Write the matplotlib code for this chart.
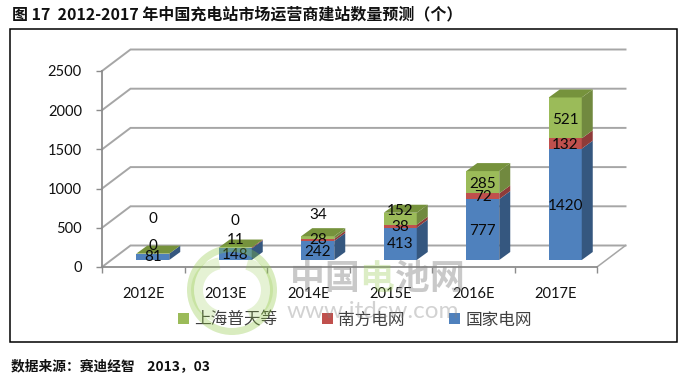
import matplotlib
matplotlib.use('Agg')
import matplotlib.pyplot as plt
from matplotlib.patches import Patch, Rectangle, Wedge
from matplotlib.transforms import IdentityTransform

CJK = ['Noto Sans CJK SC', 'DejaVu Sans']
LATIN = ['Lato', 'DejaVu Sans']

categories = ['2012E', '2013E', '2014E', '2015E', '2016E', '2017E']
state_grid = [81, 148, 242, 413, 777, 1420]
southern_grid = [0, 11, 28, 38, 72, 132]
shanghai = [0, 0, 34, 152, 285, 521]
series_names = ['上海普天等', '南方电网', '国家电网']
y_ticks = [0, 500, 1000, 1500, 2000, 2500]

W, H = 691, 376
BLUE, RED, GREEN = '#4F81BD', '#C0504D', '#9BBB59'
BLUE_S, RED_S, GREEN_S = '#35577F', '#8E3B39', '#71893F'
TOP = '#76923C'
GRID = '#A6A6A6'

fig = plt.figure(figsize=(W / 100, H / 100), dpi=100, facecolor='white')
ax = fig.add_axes([102 / W, 1 - 267 / H, 495 / W, 196 / H])
ax.set_xlim(-0.5, 5.5)
ax.set_ylim(0, 2500)
ax.patch.set_visible(False)

px_x = 1 / 82.5
px_y = 2500 / 196
wall_dx, wall_dy = 28.5 * px_x, 21.5 * px_y
bar_off_x, bar_off_y = 9.5 * px_x, 7 * px_y
bar_dx, bar_dy = 11 * px_x, 8 * px_y
bar_w = 33 * px_x

# walls and floor
for v in y_ticks:
    ax.plot([-0.5, -0.5 + wall_dx, 5.5 + wall_dx], [v, v + wall_dy, v + wall_dy],
            color=GRID, lw=1.4, clip_on=False, zorder=1, solid_joinstyle='miter')
ax.plot([5.5, 5.5 + wall_dx], [0, wall_dy], color=GRID, lw=1.1, clip_on=False, zorder=1)

# spines and ticks
for s in ['top', 'right']:
    ax.spines[s].set_visible(False)
for s in ['left', 'bottom']:
    ax.spines[s].set_color('#8C8C8C')
    ax.spines[s].set_linewidth(1.3)
    ax.spines[s].set_zorder(2)
ax.set_yticks(y_ticks)
ax.set_yticklabels([str(v) for v in y_ticks], fontfamily=LATIN, fontsize=10.5)
ax.tick_params(axis='y', length=4, width=1, color='#8C8C8C', pad=10.5, labelcolor='#111111')
ax.set_xticks(range(len(categories)))
ax.set_xticklabels(categories, fontfamily=LATIN, fontsize=10.5)
ax.tick_params(axis='x', which='major', length=0, pad=14.5, labelcolor='#111111')
ax.set_xticks([i - 0.5 for i in range(len(categories) + 1)], minor=True)
ax.tick_params(axis='x', which='minor', length=4, width=1, color='#8C8C8C')

# stacked 3D-look bars
stack = [(state_grid, BLUE, BLUE_S), (southern_grid, RED, RED_S), (shanghai, GREEN, GREEN_S)]
# label offsets in pixels from the segment midpoint (up positive)
label_off = [[0, -1, -1.5, 0, -1.5, -1.4],
             [8, 8, 0, -1, -1, -1.6],
             [35, 26.5, 22, 7.6, -2, -2]]
bottoms = [0] * len(categories)
for (vals, col, side), offs in zip(stack, label_off):
    for i, v in enumerate(vals):
        x0 = i + bar_off_x
        y0 = bar_off_y + bottoms[i]
        ax.bar(x0, v, width=bar_w, bottom=y0, color=col, linewidth=0, zorder=3, clip_on=False)
        xr = x0 + bar_w / 2
        ax.fill([xr, xr + bar_dx, xr + bar_dx, xr],
                [y0, y0 + bar_dy, y0 + v + bar_dy, y0 + v],
                color=side, lw=0, zorder=3, clip_on=False)
        ax.annotate(str(v), xy=(x0, y0 + v / 2), xytext=(0, offs[i]),
                    textcoords='offset pixels', ha='center', va='center',
                    fontfamily=LATIN, fontsize=11, color='#0A0A0A', zorder=6,
                    annotation_clip=False)
        bottoms[i] += v
for i, t in enumerate(bottoms):
    x0 = i + bar_off_x
    y = bar_off_y + t
    xl, xr = x0 - bar_w / 2, x0 + bar_w / 2
    ax.fill([xl, xr, xr + bar_dx, xl + bar_dx], [y, y, y + bar_dy, y + bar_dy],
            color=TOP, lw=0, zorder=3, clip_on=False)

# legend
handles = [Patch(color=GREEN, lw=0), Patch(color=RED, lw=0), Patch(color=BLUE, lw=0)]
leg = fig.legend(handles, series_names, ncol=3, frameon=False,
                 loc='center', bbox_to_anchor=(355 / W, 1 - 320 / H),
                 prop={'family': CJK, 'size': 12}, labelcolor='#404040',
                 handlelength=0.66, handleheight=0.66, handletextpad=0.33,
                 columnspacing=2.65, borderpad=0, borderaxespad=0)

# frame, title, source
fig.add_artist(Rectangle((10, H - 342), 667, 313, fill=False, edgecolor='black', lw=1.1,
                         transform=IdentityTransform(), zorder=0))
fig.text(12 / W, 1 - 14 / H, '图 17  2012-2017 年中国充电站市场运营商建站数量预测（个）',
         fontfamily=CJK, fontsize=11.5, fontweight='bold', va='center', color='#111111')
fig.text(11 / W, 1 - 366 / H, '数据来源：赛迪经智    2013，03',
         fontfamily=CJK, fontsize=9.9, fontweight='bold', va='center', color='#111111')

# watermark
tr = IdentityTransform()
fig.add_artist(Wedge((232, H - 290), 45, 0, 360, width=7, transform=tr,
                     facecolor='#8CC63F', alpha=0.33, lw=0, zorder=7))
fig.add_artist(Wedge((224, H - 290), 33, 100, 250, width=12, transform=tr,
                     facecolor='#8CC63F', alpha=0.22, lw=0, zorder=7))
fig.add_artist(Wedge((240, H - 290), 33, -70, 75, width=12, transform=tr,
                     facecolor='#8CC63F', alpha=0.22, lw=0, zorder=7))
wm_chars = ['中', '国', '电', '池', '网']
wm_cols = ['#808080', '#808080', '#8CC63F', '#808080', '#808080']
wm_alpha = [0.42, 0.42, 0.3, 0.42, 0.42]
for k, (c, col, al) in enumerate(zip(wm_chars, wm_cols, wm_alpha)):
    fig.text((307 + k * 35) / W, 1 - 278 / H, c, fontfamily=CJK, fontsize=25, fontweight='bold',
             ha='center', va='center', color=col, alpha=al, zorder=7)
fig.text(373 / W, 1 - 312 / H, 'www.itdcw.com', fontfamily=LATIN, fontsize=17.5,
         ha='center', va='center', color='#808080', alpha=0.35, zorder=7)

fig.savefig('out.png', dpi=100, facecolor='white')
